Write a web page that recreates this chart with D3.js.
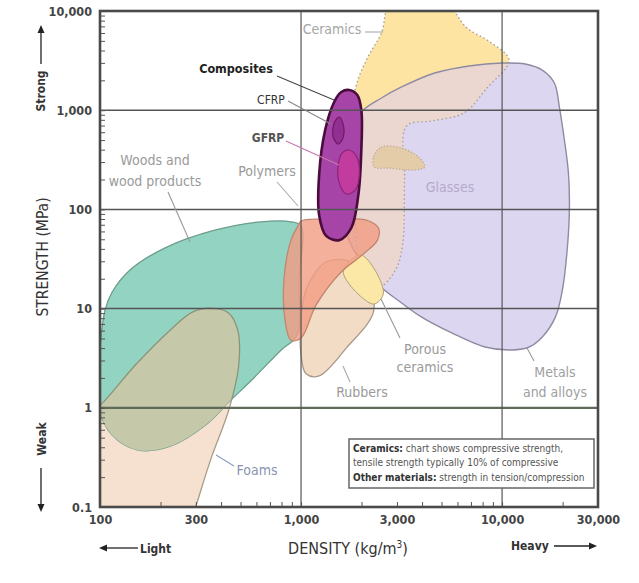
<!DOCTYPE html>
<html lang="en">
<head>
<meta charset="UTF-8">
<title>Strength vs density</title>
<script src="https://cdn.jsdelivr.net/npm/d3@7/dist/d3.min.js"></script>
<style>
	body { margin: 0; background: #fff; }
	svg text { font-family: "DejaVu Sans Condensed", "DejaVu Sans", sans-serif; }
</style>
</head>
<body>
<div id="viz"></div>
<script>
// axis values
var xTicks = [100, 300, 1000, 3000, 10000, 30000];
var xTickLabels = ['100', '300', '1,000', '3,000', '10,000', '30,000'];
var yTicks = [0.1, 1, 10, 100, 1000, 10000];
var yTickLabels = ['0.1', '1', '10', '100', '1,000', '10,000'];
var xGrid = [1000, 10000];
var yGrid = [1, 10, 100, 1000];

// region outlines, [density kg/m3, strength MPa]
var foams = [[355, 10.1], [437, 9.0], [484, 6.1], [490, 2.7], [437, 0.95], [359, 0.32], [299, 0.1],
	[275, 0.059], [94, 0.059], [94, 0.95], [104, 1.14], [150, 2.7], [224, 6.1], [288, 9.2]];
var woods = [[99, 1.2], [100, 3.8], [106, 9.7], [115, 14.7], [141, 24.5], [211, 41], [376, 62],
	[631, 75], [891, 75], [1000, 68], [977, 19.4], [955, 5.4], [794, 3.8], [582, 2.0], [437, 1.14],
	[335, 0.67], [224, 0.41], [153, 0.376], [115, 0.53], [99, 0.95]];
var ceramics = [[2800, 12000], [5200, 12000], [6683, 6740], [8710, 4870], [10839, 3210], [8414, 1675],
	[6457, 937], [4467, 778], [3350, 693], [3273, 198], [3199, 43.8], [2951, 24.5], [2455, 16.5],
	[2042, 18.5], [1884, 49], [1850, 397], [1778, 797], [1884, 1795], [2138, 3360], [2512, 6000]];
var metals = [[1995, 959], [2512, 1327], [3162, 1714], [4624, 2371], [6839, 2790], [10000, 2990],
	[13032, 2923], [15849, 2540], [18197, 1880], [19275, 1077], [20417, 501], [21380, 233],
	[21627, 106], [21135, 41.8], [19953, 15.4], [18408, 8.2], [15849, 5.17], [13646, 4.1],
	[11220, 3.83], [8222, 4.1], [5623, 5.68], [3981, 8.2], [3162, 11.4], [2371, 18.1],
	[1928, 32.4], [1698, 55.2], [1622, 157], [1679, 501]];
var glasses = [[2291, 337], [2512, 425], [3162, 415], [3846, 337], [4121, 267], [3673, 250],
	[2723, 261], [2317, 267]];
var rubbers = [[1059, 15.4], [1334, 29.5], [1778, 29.5], [2188, 17.3], [2291, 9.2], [1679, 4.0],
	[1230, 2.1], [1059, 2.2], [1000, 3.4], [1000, 7.7]];
var porousCeramics = [[1622, 23.4], [1995, 34.7], [2570, 14.4], [2291, 11.1]];
var polymers = [[1000, 76.4], [1585, 80], [2113, 78], [2427, 65], [2399, 49], [2042, 35.5],
	[1585, 23.4], [1189, 10.9], [1000, 5.06], [891, 4.8], [832, 7.7], [822, 19.4], [891, 49], [977, 71]];
var composites = [[1738, 1600], [1905, 1423], [1995, 1005], [1995, 397], [1928, 140], [1778, 65],
	[1549, 49], [1334, 54], [1230, 87.8], [1230, 222], [1318, 631], [1462, 1210], [1585, 1525]];
var cfrp = [[1549, 854], [1622, 710], [1622, 537], [1531, 456], [1445, 537], [1462, 743]];
var gfrp = [[1738, 397], [1905, 330], [1950, 222], [1862, 157], [1679, 143], [1549, 185],
	[1531, 280], [1603, 371]];

var W = 639, H = 583;
var margin = {top: 11, left: 100, right: 41, bottom: 76};

var x = d3.scaleLog().domain([100, 30000]).range([margin.left, W - margin.right]);
var y = d3.scaleLog().domain([0.1, 10000]).range([H - margin.bottom, margin.top]);

var svg = d3.select('#viz').append('svg')
	.attr('width', W)
	.attr('height', H);

var defs = svg.append('defs');
defs.append('clipPath').attr('id', 'plot')
	.append('rect')
	.attr('x', x(100)).attr('y', y(10000))
	.attr('width', x(30000) - x(100)).attr('height', y(0.1) - y(10000));

var line = d3.line()
	.x(function (d) { return x(d[0]); })
	.y(function (d) { return y(d[1]); })
	.curve(d3.curveCatmullRomClosed.alpha(0.5));

defs.append('clipPath').attr('id', 'woodsClip')
	.append('path').attr('d', line(woods));
defs.append('clipPath').attr('id', 'metalsClip')
	.append('path').attr('d', line(metals));

var g = svg.append('g').attr('clip-path', 'url(#plot)');

function region(pts, fill, stroke, opts) {
	opts = opts || {};
	return g.append('path')
		.attr('d', line(pts))
		.attr('fill', fill)
		.attr('fill-opacity', opts.opacity == null ? 1 : opts.opacity)
		.attr('stroke', stroke)
		.attr('stroke-width', opts.width || 1.3)
		.attr('stroke-dasharray', opts.dash || null)
		.attr('stroke-linecap', 'round')
		.attr('clip-path', opts.clip || null);
}

region(foams, '#f6e0cf', '#a89c86');
region(woods, '#93d3c2', '#6c9c8c');
region(foams, '#c5c9aa', '#8c9478', {clip: 'url(#woodsClip)'});

region(ceramics, '#fde4a3', 'none');
region(metals, '#ddd6f0', 'none');
region(ceramics, '#ebd6d0', 'none', {clip: 'url(#metalsClip)'});
region(metals, 'none', '#8e8aa2', {width: 1.4});
region(ceramics, 'none', '#a8a29a', {width: 1.6, dash: '0.1 4'});
region(glasses, '#e4cca9', '#b8a488', {width: 1.3, dash: '0.1 3'});
region(rubbers, '#f3dcc6', '#a8978a');
region(porousCeramics, '#fbe7a6', '#b0a07a', {width: 1});
region(polymers, '#f39c82', '#c08670', {opacity: 0.8});
region(composites, '#a645a7', '#4a0c3c', {width: 2.6});
region(cfrp, '#922f92', '#6e1a68', {width: 1.2});
region(gfrp, '#c23c9f', '#8c2278', {width: 1.2});

// grid
g.selectAll('.hgrid').data(yGrid).enter().append('line')
	.attr('x1', x(100)).attr('x2', x(30000))
	.attr('y1', function (d) { return y(d); })
	.attr('y2', function (d) { return y(d); })
	.attr('stroke', function (d) { return d === 1 ? '#5f6a58' : '#555'; })
	.attr('stroke-width', function (d) { return d === 1 ? 2.2 : 1.5; });
g.selectAll('.vgrid').data(xGrid).enter().append('line')
	.attr('y1', y(10000)).attr('y2', y(0.1))
	.attr('x1', function (d) { return x(d); })
	.attr('x2', function (d) { return x(d); })
	.attr('stroke', '#555')
	.attr('stroke-width', 1.2);

// minor ticks inside the frame
var minorX = [], minorY = [];
[100, 1000, 10000].forEach(function (e) {
	for (var k = 1; k < 10; k++) if (k * e <= 30000) minorX.push(k * e);
});
[0.1, 1, 10, 100, 1000].forEach(function (e) {
	for (var k = 1; k < 10; k++) minorY.push(k * e);
});

svg.append('g')
	.attr('transform', 'translate(' + x(100) + ',0)')
	.call(d3.axisLeft(y).tickValues(minorY).tickSize(-5).tickFormat(''))
	.call(function (s) {
		s.select('.domain').remove();
		s.selectAll('line').attr('stroke', '#555').attr('stroke-width', 1);
	});
svg.append('g')
	.attr('transform', 'translate(0,' + y(0.1) + ')')
	.call(d3.axisBottom(x).tickValues(minorX).tickSize(-5).tickFormat(''))
	.call(function (s) {
		s.select('.domain').remove();
		s.selectAll('line').attr('stroke', '#555').attr('stroke-width', 1);
	});

// frame
svg.append('rect')
	.attr('x', x(100)).attr('y', y(10000))
	.attr('width', x(30000) - x(100)).attr('height', y(0.1) - y(10000))
	.attr('fill', 'none')
	.attr('stroke', '#4a4a4a')
	.attr('stroke-width', 2.6);

// tick labels
var yAxis = svg.append('g')
	.attr('transform', 'translate(' + x(100) + ',0)')
	.call(d3.axisLeft(y).tickValues(yTicks).tickSize(0).tickPadding(8)
		.tickFormat(function (d, i) { return yTickLabels[i]; }));
yAxis.select('.domain').remove();
yAxis.selectAll('text').attr('font-size', 12.5).attr('font-weight', 'bold').attr('fill', '#444')
	.attr('font-family', '"DejaVu Sans Condensed", "DejaVu Sans", sans-serif');

var xAxis = svg.append('g')
	.attr('transform', 'translate(0,' + y(0.1) + ')')
	.call(d3.axisBottom(x).tickValues(xTicks).tickSize(0).tickPadding(8)
		.tickFormat(function (d, i) { return xTickLabels[i]; }));
xAxis.select('.domain').remove();
xAxis.selectAll('text').attr('font-size', 12.5).attr('font-weight', 'bold').attr('fill', '#444')
	.attr('font-family', '"DejaVu Sans Condensed", "DejaVu Sans", sans-serif');

// axis titles and arrows
function arrow(x1, y1, x2, y2) {
	var a = Math.atan2(y2 - y1, x2 - x1), L = 8, w = 3.5;
	svg.append('line').attr('x1', x1).attr('y1', y1).attr('x2', x2 - L * Math.cos(a)).attr('y2', y2 - L * Math.sin(a))
		.attr('stroke', '#222').attr('stroke-width', 1.3);
	var p = [[x2, y2],
		[x2 - L * Math.cos(a) + w * Math.sin(a), y2 - L * Math.sin(a) - w * Math.cos(a)],
		[x2 - L * Math.cos(a) - w * Math.sin(a), y2 - L * Math.sin(a) + w * Math.cos(a)]];
	svg.append('path').attr('d', 'M' + p.join('L') + 'Z').attr('fill', '#222');
}

svg.append('text')
	.attr('transform', 'translate(48,257) rotate(-90)')
	.attr('text-anchor', 'middle')
	.attr('font-size', 15.5).attr('fill', '#333')
	.text('STRENGTH (MPa)');
svg.append('text')
	.attr('transform', 'translate(45,91) rotate(-90)')
	.attr('text-anchor', 'middle')
	.attr('font-size', 12).attr('font-weight', 'bold').attr('fill', '#333')
	.text('Strong');
arrow(41, 64, 41, 25);
svg.append('text')
	.attr('transform', 'translate(46,439) rotate(-90)')
	.attr('text-anchor', 'middle')
	.attr('font-size', 12).attr('font-weight', 'bold').attr('fill', '#333')
	.text('Weak');
arrow(41, 468, 41, 512);

var dens = svg.append('text')
	.attr('x', 348).attr('y', 554)
	.attr('text-anchor', 'middle')
	.attr('font-size', 16).attr('fill', '#333')
	.text('DENSITY (kg/m');
dens.append('tspan').attr('dy', -6).attr('font-size', 10).text('3');
dens.append('tspan').attr('dy', 6).text(')');

arrow(138, 548, 99, 548);
svg.append('text').attr('x', 140).attr('y', 553)
	.attr('font-size', 12).attr('font-weight', 'bold').attr('fill', '#333').text('Light');
svg.append('text').attr('x', 511).attr('y', 550)
	.attr('font-size', 12).attr('font-weight', 'bold').attr('fill', '#333').text('Heavy');
arrow(554, 546, 597, 546);

// region labels with leader lines
function leader(x1, y1, x2, y2, col) {
	svg.append('line').attr('x1', x1).attr('y1', y1).attr('x2', x2).attr('y2', y2)
		.attr('stroke', col || '#777').attr('stroke-width', 1.1);
}
function label(tx, ty, lines, opts) {
	opts = opts || {};
	var t = svg.append('text')
		.attr('x', tx).attr('y', ty)
		.attr('text-anchor', opts.anchor || 'middle')
		.attr('font-size', opts.size || 14)
		.attr('font-weight', opts.weight || 'normal')
		.attr('fill', opts.color || '#9a9a9a');
	lines.forEach(function (s, i) {
		t.append('tspan').attr('x', tx).attr('dy', i ? (opts.lh || 13) : 0).text(s);
	});
}

leader(365, 32, 383, 32, '#aaa');
label(332, 34, ['Ceramics'], {color: '#a5a5a5'});
leader(277, 76, 334, 100, '#444');
label(236, 73, ['Composites'], {weight: 'bold', color: '#222', size: 12.5});
leader(288, 101, 331, 124, '#888');
label(271, 104, ['CFRP'], {color: '#333', size: 12});
leader(286, 141, 339, 165, '#c47aa8');
label(268, 142, ['GFRP'], {weight: 'bold', color: '#555', size: 12});
leader(277, 182, 298, 206, '#aaa');
label(267, 176, ['Polymers']);
leader(168, 192, 190, 242, '#999');
label(155, 165, ['Woods and', 'wood products'], {lh: 21});
label(450, 192, ['Glasses'], {color: '#b4aacb'});
leader(381, 299, 400, 338, '#999');
label(425, 354, ['Porous', 'ceramics'], {lh: 18});
leader(343, 366, 350, 382, '#aaa');
label(362, 397, ['Rubbers']);
leader(527, 348, 534, 361, '#999');
label(555, 377, ['Metals', 'and alloys'], {lh: 20, color: '#a0a0a0'});
leader(216, 455, 234, 466, '#8c9cc8');
label(257, 475, ['Foams'], {color: '#8a94b0'});

// note box
svg.append('rect')
	.attr('x', 349).attr('y', 439).attr('width', 245).attr('height', 49)
	.attr('fill', '#fff').attr('stroke', '#666').attr('stroke-width', 1.5);
var note = svg.append('text').attr('font-size', 10).attr('fill', '#555')
	.attr('font-family', '"DejaVu Sans", sans-serif');
var l1 = note.append('tspan').attr('x', 353).attr('y', 452);
l1.append('tspan').attr('font-weight', 'bold').attr('fill', '#333').text('Ceramics:');
l1.append('tspan').text(' chart shows compressive strength,');
note.append('tspan').attr('x', 353).attr('y', 466).text('tensile strength typically 10% of compressive');
var l3 = note.append('tspan').attr('x', 353).attr('y', 481);
l3.append('tspan').attr('font-weight', 'bold').attr('fill', '#333').text('Other materials:');
l3.append('tspan').text(' strength in tension/compression');
</script>
</body>
</html>
